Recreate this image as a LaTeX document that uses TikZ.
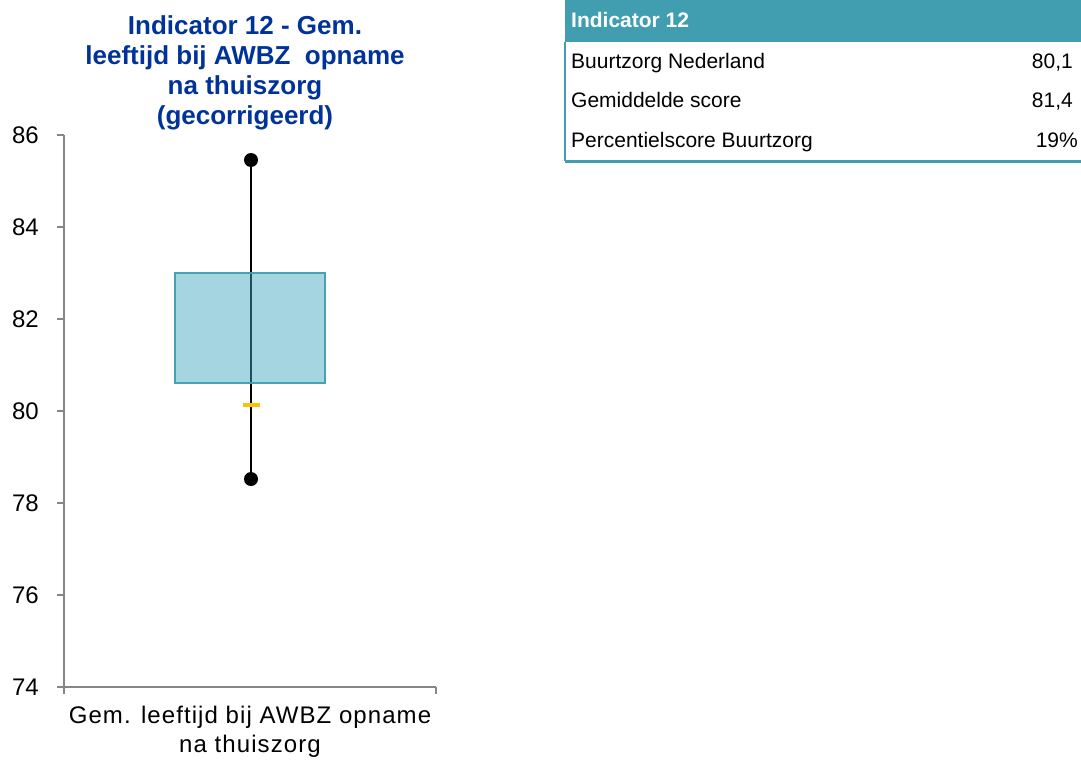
\documentclass[tikz,border=0pt]{standalone}
\usepackage{fontspec}
\setmainfont{Liberation Sans}
\newfontfamily\spacedfont[LetterSpace=4.5]{Liberation Sans}
\usetikzlibrary{positioning}
\definecolor{titleblue}{RGB}{0, 51, 153}
\definecolor{tealhead}{RGB}{64, 158, 176}
\definecolor{boxfill}{RGB}{65, 166, 194}
\definecolor{axisgray}{RGB}{134, 134, 134}
\definecolor{scoreorange}{RGB}{255, 192, 0}
\tikzset{
  axisline/.style={draw=axisgray, line width=1.5pt},
  ticklabel/.style={anchor=east, inner sep=0pt, font=\fontsize{24}{28}\selectfont},
  whiskerdot/.style={circle, fill=black, inner sep=0pt, minimum size=14pt},
  iqrbox/.style={rectangle, fill=boxfill, fill opacity=0.47, draw=tealhead, draw opacity=0.95, line width=2.5pt, minimum width=150pt, minimum height=110pt},
  scorebar/.style={rectangle, fill=scoreorange, inner sep=0pt, minimum width=17pt, minimum height=4pt},
  headcell/.style={fill=tealhead, inner sep=0pt, minimum height=42pt, minimum width=516pt},
  headtext/.style={anchor=base west, inner sep=0pt, text=white, font=\fontsize{21}{25}\selectfont\bfseries},
  rowtext/.style={anchor=base west, inner sep=0pt, font=\fontsize{21}{25}\selectfont},
  rowvalue/.style={anchor=base east, inner sep=0pt, font=\fontsize{21}{25}\selectfont},
}

\begin{document}
\begin{tikzpicture}[x=1pt, y=-1pt]
  \useasboundingbox (0,0) rectangle (1081,760);

  % chart title
  \node[text=titleblue, font=\fontsize{26}{30}\selectfont\bfseries, align=center, inner sep=0pt] (title) at (245,73) {
    Indicator 12 - Gem.\\
    leeftijd bij AWBZ\ \ opname\\
    na thuiszorg\\
    (gecorrigeerd)
  };

  % axes
  \coordinate (ytop) at (64,135);
  \coordinate (orig) at (64,687);
  \coordinate (xend) at (436,687);
  \draw[axisline] (ytop) -- (orig) -- (xend);
  \draw[axisline] (orig) -- ++(0,7);
  \draw[axisline] (xend) -- ++(0,7);
  \foreach \v in {74,76,...,86} {
    \pgfmathsetmacro{\yy}{135+(86-\v)*46}
    \draw[axisline] (57,\yy) -- (64,\yy);
    \node[ticklabel] (tick\v) at (39,\yy) {\v};
  }
  \node[align=center, inner sep=0pt, font=\fontsize{24}{29}\selectfont\spacedfont] (xlabel) at (250,732) {
    Gem. leeftijd bij AWBZ opname\\
    na thuiszorg
  };

  % box plot
  \node[whiskerdot] (wtop) at (251,160) {};
  \node[whiskerdot] (wbot) at (251,479) {};
  \draw[black, line width=2.2pt] (wtop.center) -- (wbot.center);
  \node[iqrbox] (iqr) at (250,328) {};
  \node[scorebar] (score) at (251,405) {};

  % table
  \node[headcell, anchor=north west] (head) at (565,0) {};
  \node[headtext] (headlbl) at (571,28) {Indicator 12};
  \node[rowtext] (bnl) at (571,68) {Buurtzorg Nederland};
  \node[rowvalue] (bnlval) at (1073,68) {80,1};
  \node[rowtext] (avg) at (571,107) {Gemiddelde score};
  \node[rowvalue] (avgval) at (1073,107) {81,4};
  \node[rowtext] (pct) at (571,147) {Percentielscore Buurtzorg};
  \node[rowvalue] (pctval) at (1078,147) {19\%};
  \coordinate (tabbl) at (565,161);
  \coordinate (tabbr) at (1081,161);
  \draw[tealhead, line width=2pt] (head.south west) -- (tabbl);
  \draw[tealhead, line width=3pt] (tabbl) -- (tabbr);
\end{tikzpicture}
\end{document}
